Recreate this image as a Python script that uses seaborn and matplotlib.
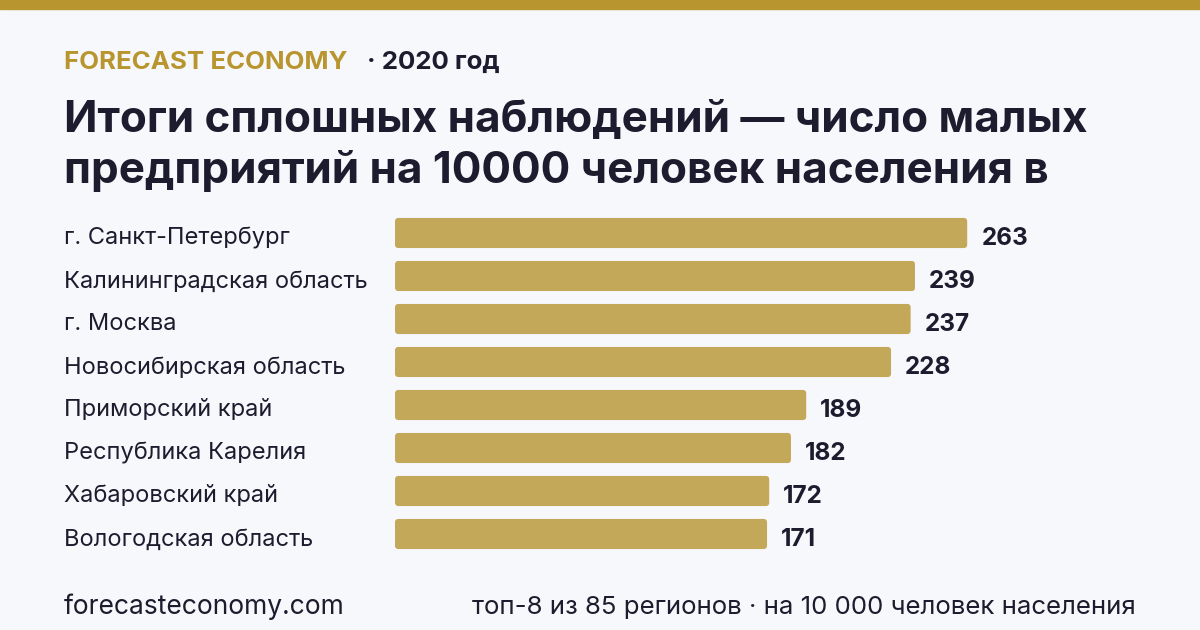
import matplotlib
matplotlib.use("Agg")
import matplotlib.pyplot as plt
from matplotlib.patches import FancyBboxPatch, Rectangle
import matplotlib.transforms as mtransforms
import seaborn as sns
import pandas as pd

# --- данные ---
regions = [
    "г. Санкт-Петербург",
    "Калининградская область",
    "г. Москва",
    "Новосибирская область",
    "Приморский край",
    "Республика Карелия",
    "Хабаровский край",
    "Вологодская область",
]
values = [263, 239, 237, 228, 189, 182, 172, 171]

brand = "FORECAST ECONOMY"
year_label = "· 2020 год"
title = "Итоги сплошных наблюдений — число малых\nпредприятий на 10000 человек населения в"
footer_left = "forecasteconomy.com"
footer_right = "топ-8 из 85 регионов · на 10 000 человек населения"

# --- стиль ---
BG = "#f7f8fc"
GOLD = "#b8952e"
BAR = "#c4a85a"
INK = "#1c1c2e"

sns.set_theme(style="white")
plt.rcParams["font.family"] = ["Inter", "DejaVu Sans"]

W, H = 1200, 630
fig = plt.figure(figsize=(W / 100, H / 100), dpi=100, facecolor=BG)

def px(x, y):
    return x / W, 1 - y / H

# верхняя полоса
fig.patches.append(Rectangle((0, 1 - 9 / H), 1, 9 / H, transform=fig.transFigure,
                             color=GOLD, zorder=0))

fig.text(*px(64, 69), brand, color=GOLD, fontsize=18.6, fontweight="bold", va="baseline")
fig.text(*px(367, 69), year_label, color=INK, fontsize=18.6, fontweight="bold", va="baseline")
fig.text(*px(64, 132), title.split("\n")[0], color=INK, fontsize=31.7,
         fontweight="bold", va="baseline")
fig.text(*px(64, 183), title.split("\n")[1], color=INK, fontsize=31.7,
         fontweight="bold", va="baseline")

# --- бары ---
ax = fig.add_axes([395 / W, (H - 555.5) / H, 805 / W, 344 / H])
ax.set_facecolor(BG)
df = pd.DataFrame({"region": regions, "value": values})
sns.barplot(data=df, x="value", y="region", orient="h", color=BAR,
            width=0.70, saturation=1, ax=ax)
ax.set_xlim(0, 370)
ax.set_ylim(7.5, -0.5)

# скруглённые углы
for p in list(ax.patches):
    x0, y0 = p.get_x(), p.get_y()
    w, h = p.get_width(), p.get_height()
    p.set_visible(False)
    ax.add_patch(FancyBboxPatch((x0, y0), w, h,
                                boxstyle="round,pad=0,rounding_size=1.6",
                                mutation_aspect=0.05, facecolor=BAR,
                                edgecolor="none"))

# небольшой сдвиг текста вниз (в пикселях)
shift = mtransforms.ScaledTranslation(0, -3 / 100, fig.dpi_scale_trans)

for i, v in enumerate(values):
    ax.text(v + 6.5, i, f"{v}", color=INK, fontsize=17.5, fontweight="bold",
            va="center_baseline", ha="left", transform=ax.transData + shift)

trans = mtransforms.blended_transform_factory(fig.transFigure, ax.transData) + shift
for i, r in enumerate(regions):
    ax.text(64 / W, i, r, transform=trans, color=INK, fontsize=17,
            va="center_baseline", ha="left")

ax.set_xlabel("")
ax.set_ylabel("")
ax.set_xticks([])
ax.set_yticks([])
sns.despine(ax=ax, left=True, bottom=True)

fig.text(*px(64, 614), footer_left, color=INK, fontsize=19, va="baseline")
fig.text(*px(1136, 614), footer_right, color=INK, fontsize=18.6, va="baseline", ha="right")

fig.savefig("out.png", dpi=100, facecolor=BG)
